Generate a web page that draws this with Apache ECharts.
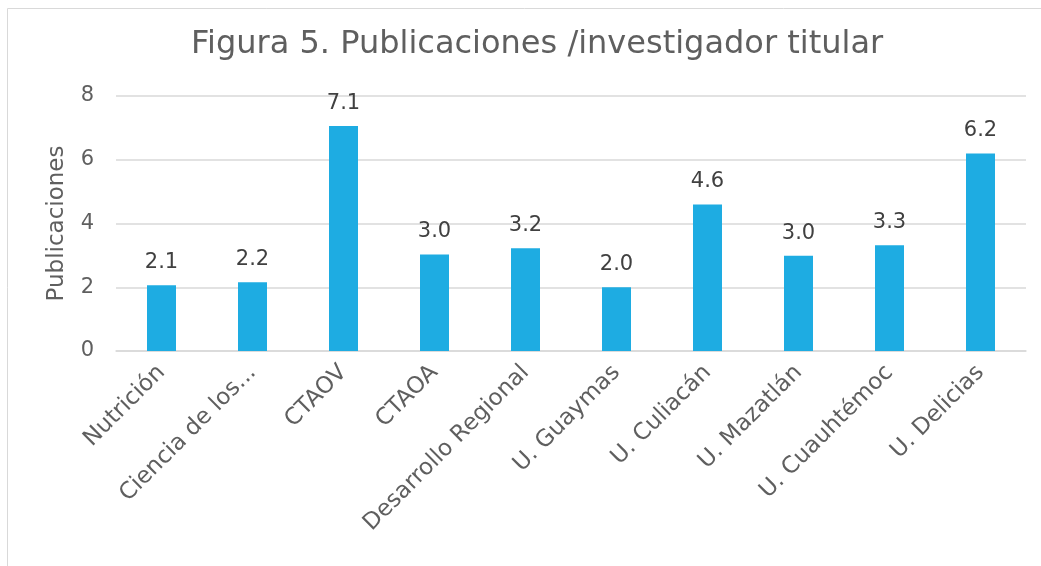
<!DOCTYPE html>
<html>
<head>
<meta charset="utf-8">
<script src="https://cdn.jsdelivr.net/npm/echarts@6/dist/echarts.min.js"></script>
<style>
html,body{margin:0;padding:0;background:#fff;}
#c{width:1041px;height:566px;}
</style>
</head>
<body>
<div id="c"></div>
<script>
const categories = ["Nutrición","Ciencia de los...","CTAOV","CTAOA","Desarrollo Regional","U. Guaymas","U. Culiacán","U. Mazatlán","U. Cuauhtémoc","U. Delicias"];
const values = [2.06, 2.16, 7.06, 3.03, 3.22, 2.0, 4.6, 2.99, 3.32, 6.2];
const yTicks = [0, 2, 4, 6, 8];
const titleText = "Figura 5. Publicaciones /investigador titular";
const yName = "Publicaciones";

const chart = echarts.init(document.getElementById('c'), null, {renderer:'canvas'});
const FONT = "DejaVu Sans";
chart.setOption({
  animation:false,
  textStyle:{fontFamily:FONT},
  graphic:[{type:'rect',shape:{x:7.5,y:8.5,width:1040,height:570},style:{fill:null,stroke:'#d9d9d9',lineWidth:1}}],
  title:{text:titleText,left:186,top:24,textStyle:{fontFamily:FONT,fontSize:32,fontWeight:'normal',color:'#5f5f5f'}},
  grid:{left:116,right:15,top:96,bottom:215},
  xAxis:{type:'category',data:categories,
    axisLine:{lineStyle:{color:'#d9d9d9',width:1.5}},axisTick:{show:false},
    axisLabel:{rotate:45,interval:0,fontSize:23,color:'#5f5f5f',margin:18,fontFamily:FONT}},
  yAxis:{type:'value',min:yTicks[0],max:yTicks[yTicks.length-1],interval:2,
    name:yName,nameLocation:'middle',nameGap:47,nameRotate:90,
    nameTextStyle:{fontSize:23,color:'#5f5f5f',fontFamily:FONT},
    axisLine:{show:false},axisTick:{show:false},
    axisLabel:{fontSize:21,color:'#5f5f5f',margin:22,fontFamily:FONT},
    splitLine:{lineStyle:{color:'#d9d9d9',width:1.5}}},
  series:[{type:'bar',data:values,barWidth:29,
    itemStyle:{color:'#1eace2'},
    label:{show:true,position:'top',distance:12,fontSize:21,color:'#404040',fontFamily:FONT,
      formatter:p=>p.value.toFixed(1)}}]
});
</script>
</body>
</html>
